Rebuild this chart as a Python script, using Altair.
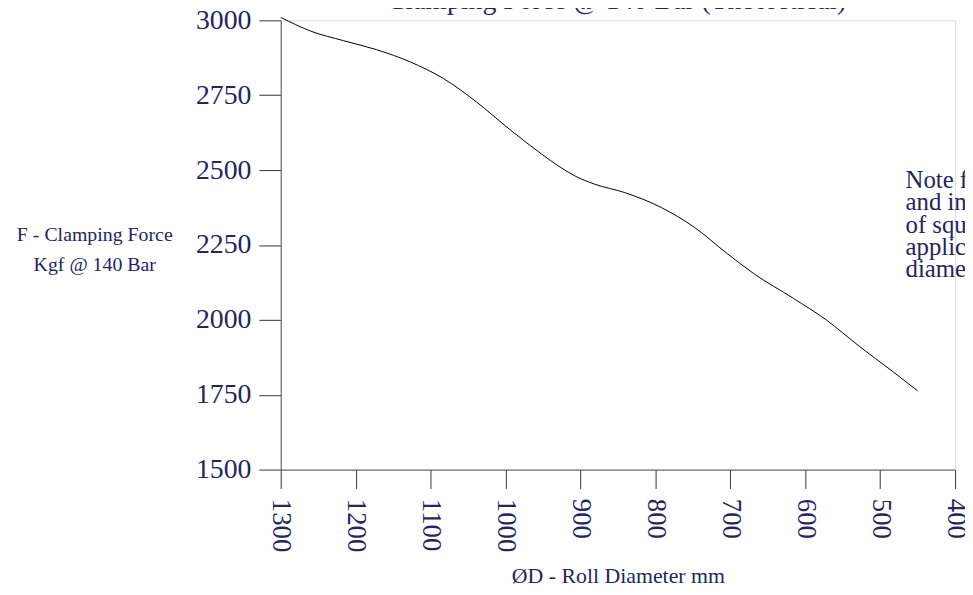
import altair as alt
import pandas as pd

# Curve (roll diameter mm -> clamping force kgf)
diameter = [1300, 1260, 1216, 1172, 1127, 1083, 1039, 995, 951, 929, 907, 881,
            841, 792, 748, 704, 669, 616, 572, 528, 484, 450]
force = [3010, 2964, 2932, 2902, 2861, 2806, 2728, 2637, 2552, 2513, 2480, 2453,
         2425, 2375, 2309, 2221, 2155, 2072, 2000, 1912, 1829, 1763]

x_ticks = [1300, 1200, 1100, 1000, 900, 800, 700, 600, 500, 400]
y_ticks = [1500, 1750, 2000, 2250, 2500, 2750, 3000]

title_text = "Clamping Force @ 140 Bar (Theoretical)"
y_title = ["F - Clamping Force", "Kgf @ 140 Bar"]
x_title = "ØD - Roll Diameter mm"
note_lines = [
    "Note    forces shown are theoretical",
    "and indicative only. The choice",
    "of squeeze roll depends on the",
    "application and the roll",
    "diameter used.",
]

FONT = "Liberation Serif"
NAVY = "#25255f"

df = pd.DataFrame({"d": diameter, "f": force})
ann = pd.DataFrame({"title": [title_text], "note": ["\n".join(note_lines)]})

line = alt.Chart(df).mark_line(color="black", strokeWidth=1, interpolate="monotone").encode(
    x=alt.X("d:Q",
            scale=alt.Scale(domain=[400, 1300], reverse=True, nice=False, zero=False),
            axis=alt.Axis(values=x_ticks, format="d", labelAngle=90, labelAlign="left",
                          labelBaseline="middle", tickSize=19, labelPadding=10,
                          labelFontSize=27, labelFont=FONT, labelColor=NAVY,
                          labelOverlap=False, grid=False,
                          domainColor="#555555", tickColor="#333333",
                          title=x_title, titleFont=FONT, titleFontSize=22,
                          titleFontWeight="normal", titleColor=NAVY,
                          titleAlign="center", titleBaseline="alphabetic",
                          titleX=340, titleY=114)),
    y=alt.Y("f:Q",
            scale=alt.Scale(domain=[1500, 3000], nice=False, zero=False),
            axis=alt.Axis(values=y_ticks, format="d", tickSize=22, labelPadding=8,
                          labelFontSize=28, labelFont=FONT, labelColor=NAVY,
                          labelOverlap=False, grid=False,
                          domainColor="#555555", tickColor="#333333",
                          title=y_title, titleFont=FONT, titleFontSize=20,
                          titleFontWeight="normal", titleColor=NAVY,
                          titleAngle=0, titleAlign="center", titleBaseline="alphabetic",
                          titleLineHeight=30, titleX=-188, titleY=222)),
)

title_mark = alt.Chart(ann).mark_text(
    font=FONT, fontSize=28, color=NAVY, align="left", baseline="alphabetic"
).encode(x=alt.value(107), y=alt.value(-11), text="title:N")

note_mark = alt.Chart(ann).mark_text(
    font=FONT, fontSize=25, color=NAVY, align="left", baseline="alphabetic",
    lineBreak="\n", lineHeight=22.5
).encode(x=alt.value(630), y=alt.value(169), text="note:N")

chart = alt.layer(line, title_mark, note_mark).properties(
    width=680, height=453,
    autosize=alt.AutoSizeParams(type="none"),
    padding={"left": 275, "top": 10, "right": 10, "bottom": 124},
).configure_view(stroke=None).configure(background="white")

chart.save("out.html", embed_options={"renderer": "svg", "actions": False})
